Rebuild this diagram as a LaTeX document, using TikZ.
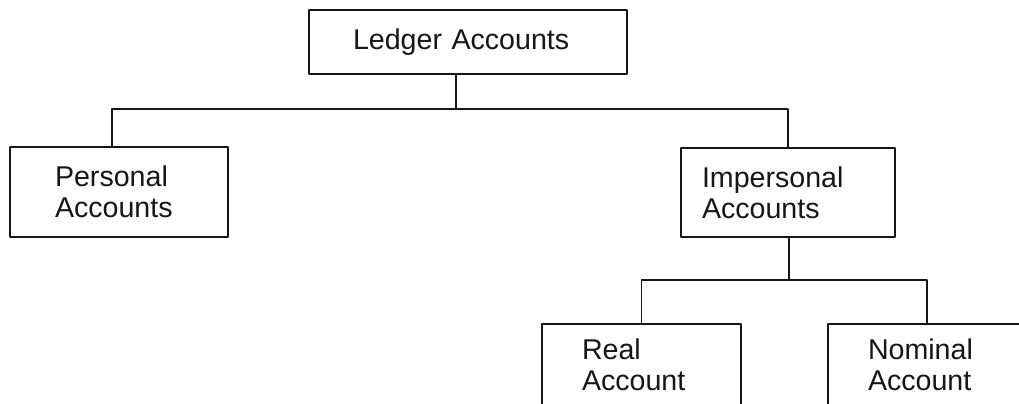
\documentclass[tikz,border=0pt]{standalone}
\usepackage{fontspec}
\setmainfont{Liberation Sans}
\usetikzlibrary{positioning,calc}
\definecolor{Ink}{HTML}{161616}
\tikzset{
  acct/.style={draw=Ink,line width=0.8pt,fill=white,align=left,inner sep=0pt,text=Ink,font=\fontsize{14.3}{15.6}\selectfont},
  link/.style={draw=Ink,line width=0.7pt},
}
\begin{document}
\begin{tikzpicture}[x=0.5pt,y=-0.5pt,line join=round]
\useasboundingbox (0,0) rectangle (1019,403);
\clip (0,0) rectangle (1019,403);
\node[acct,minimum width=159pt,minimum height=32pt,text width=115pt] (ledger) at (468,42) {Ledger Accounts};
\node[acct,minimum width=109pt,minimum height=45pt,text width=64pt] (personal) at (119,192) {Personal\\Accounts};
\node[acct,minimum width=107pt,minimum height=44.5pt,text width=86pt] (impersonal) at (788,192.5) {Impersonal\\Accounts};
% lower pair runs past the bottom edge
\node[acct,minimum width=99.5pt,minimum height=41pt,text width=59.5pt] (real) at (641.5,365) {Real\\Account};
\node[acct,minimum width=99pt,minimum height=41pt,text width=59pt] (nominal) at (927,365) {Nominal\\Account};
% first level
\coordinate (topbar) at ($(ledger.south)+(-12,34)$);
\draw[link] ([xshift=-6pt]ledger.south) -- (topbar);
\draw[link] ([xshift=-3.5pt]personal.north) |- (topbar) -| (impersonal.north);
% second level
\coordinate (lowbar) at ($(impersonal.south)+(1,42)$);
\draw[link] ([xshift=0.5pt]impersonal.south) -- (lowbar);
\draw[link] (real.north) |- (lowbar) -| (nominal.north);
\end{tikzpicture}
\end{document}
